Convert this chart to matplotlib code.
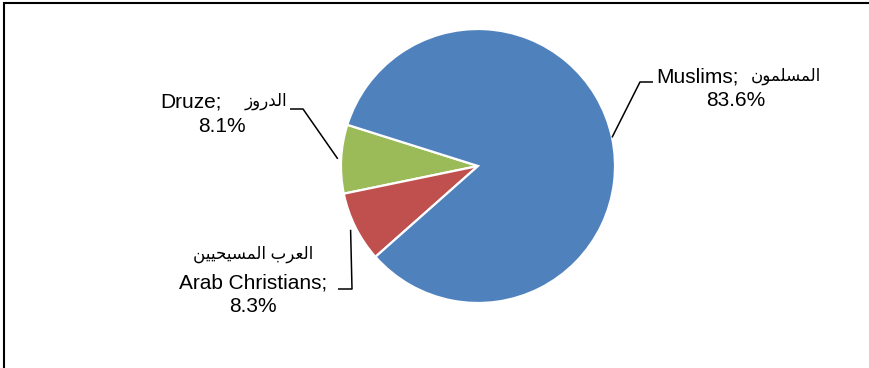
import numpy as np
import matplotlib
matplotlib.use('Agg')
import matplotlib.pyplot as plt

# Daten
groups_en = ['Druze', 'Arab Christians', 'Muslims']
groups_ar = ['الدروز', 'العرب المسيحيين', 'المسلمون']
shares = [8.1, 8.3, 83.6]
colors = ['#9BBB59', '#C0504D', '#4F81BD']
explode = [0.025, 0.04, 0.0]

W, H = 869, 368

# Arabic presentation forms (matplotlib has no shaping / bidi)
FORMS = {
    'ا': ('\ufe8d', '\ufe8e', None, None),
    'ل': ('\ufedd', '\ufede', '\ufedf', '\ufee0'),
    'د': ('\ufea9', '\ufeaa', None, None),
    'ر': ('\ufead', '\ufeae', None, None),
    'و': ('\ufeed', '\ufeee', None, None),
    'ز': ('\ufeaf', '\ufeb0', None, None),
    'م': ('\ufee1', '\ufee2', '\ufee3', '\ufee4'),
    'س': ('\ufeb1', '\ufeb2', '\ufeb3', '\ufeb4'),
    'ن': ('\ufee5', '\ufee6', '\ufee7', '\ufee8'),
    'ع': ('\ufec9', '\ufeca', '\ufecb', '\ufecc'),
    'ب': ('\ufe8f', '\ufe90', '\ufe91', '\ufe92'),
    'ي': ('\ufef1', '\ufef2', '\ufef3', '\ufef4'),
    'ح': ('\ufea1', '\ufea2', '\ufea3', '\ufea4'),
}


def shape(text):
    out = []
    for i, ch in enumerate(text):
        if ch not in FORMS:
            out.append(ch)
            continue
        prev = text[i - 1] if i > 0 else None
        nxt = text[i + 1] if i + 1 < len(text) else None
        join_prev = prev in FORMS and FORMS[prev][2] is not None
        join_next = nxt in FORMS and FORMS[ch][2] is not None
        iso, fin, ini, med = FORMS[ch]
        if join_prev and join_next:
            out.append(med)
        elif join_prev:
            out.append(fin)
        elif join_next:
            out.append(ini)
        else:
            out.append(iso)
    return ''.join(reversed(out))


plt.rcParams['font.family'] = ['Liberation Sans', 'DejaVu Sans']

fig = plt.figure(figsize=(W / 100, H / 100), dpi=100)
ax = fig.add_axes([0, 0, 1, 1])

cx, cy, r = 478, H - 166, 137
wedges, _ = ax.pie(shares, colors=colors, explode=explode, startangle=162.5,
                   counterclock=True, center=(cx, cy), radius=r,
                   wedgeprops=dict(edgecolor='white', linewidth=1.6))
ax.set_xlim(0, W)
ax.set_ylim(0, H)
ax.set_aspect('equal')
ax.axis('off')

fs = 15
fs_ar = 12

# Linien: Knick und Ende (Pixel)
knees = [(303, 109), (352, 289), (640, 82)]
ends = [(290, 109), (338, 289), (653, 82)]

for i, w in enumerate(wedges):
    mid = np.deg2rad((w.theta1 + w.theta2) / 2)
    rr = r * (1 + explode[i])
    x0, y0 = cx + rr * np.cos(mid), cy + rr * np.sin(mid)
    kx, ky = knees[i]
    ex, ey = ends[i]
    ax.plot([x0, kx, ex], [y0, H - ky, H - ey], color='black', lw=1.1,
            solid_capstyle='butt')


def put(x, y, s, size, ha='center'):
    ax.text(x, H - y, s, ha=ha, va='center', fontsize=size)


# Druze
put(160, 102, f"{groups_en[0]};", fs, ha='left')
put(287, 101, shape(groups_ar[0]), fs_ar, ha='right')
put(222, 126, f"{shares[0]}%", fs)

# Arab Christians
put(253, 254, shape(groups_ar[1]), fs_ar)
put(253, 283, f"{groups_en[1]};", fs)
put(253, 307, f"{shares[1]}%", fs)

# Muslims
put(656, 77, f"{groups_en[2]};", fs, ha='left')
put(821, 76, shape(groups_ar[2]), fs_ar, ha='right')
put(736, 101, f"{shares[2]}%", fs)

# Rahmen (oben und links)
ax.plot([4, 4, W], [0, H - 3, H - 3], color='black', lw=1.5,
        solid_joinstyle='miter', clip_on=False)

fig.savefig('out.png', dpi=100)
